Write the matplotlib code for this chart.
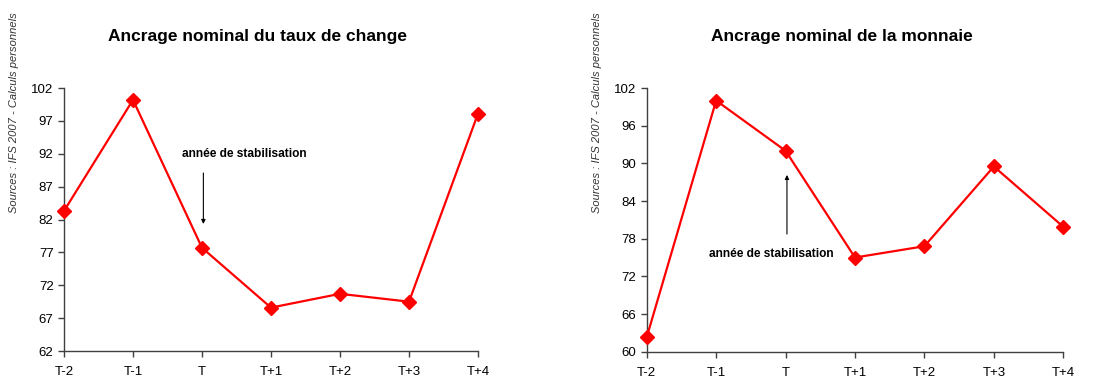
import matplotlib
matplotlib.use("Agg")
import matplotlib.pyplot as plt
from matplotlib import font_manager

# pick a narrow font if one is available
names = {f.name for f in font_manager.fontManager.ttflist}
narrow = "Liberation Sans Narrow" if "Liberation Sans Narrow" in names else "Liberation Sans"
plt.rcParams["font.family"] = [narrow, "DejaVu Sans"]

periodes = ["T-2", "T-1", "T", "T+1", "T+2", "T+3", "T+4"]
taux_change = [83.3, 100.2, 77.7, 68.6, 70.7, 69.5, 98.1]
monnaie = [62.3, 100.0, 92.0, 75.0, 76.8, 89.5, 79.9]

source = "Sources : IFS 2007 - Calculs personnels"
red = "#ff0000"
axis_col = "#404040"

fig = plt.figure(figsize=(11.07, 3.81), dpi=100)
ax1 = fig.add_axes([0.0578, 0.0787, 0.374, 0.6903])
ax2 = fig.add_axes([0.5842, 0.0769, 0.3763, 0.6921])


def style(ax, ymin, ymax, step):
    ax.set_xlim(0, len(periodes) - 1)
    ax.set_ylim(ymin, ymax)
    ax.set_yticks(range(ymin, ymax + 1, step))
    ax.set_xticks(range(len(periodes)))
    ax.set_xticklabels(periodes)
    for s in ["top", "right"]:
        ax.spines[s].set_visible(False)
    for s in ["left", "bottom"]:
        ax.spines[s].set_color(axis_col)
        ax.spines[s].set_linewidth(1.0)
    ax.tick_params(axis="both", colors=axis_col, labelcolor="black",
                   labelsize=9.5, length=4, width=1.0, direction="out")
    ax.tick_params(axis="x", pad=7)


x = list(range(len(periodes)))

# taux de change
ax1.plot(x, taux_change, color=red, lw=1.6, marker="D", ms=7, clip_on=False, zorder=3)
style(ax1, 62, 102, 5)
fig.text(0.233, 0.905, "Ancrage nominal du taux de change", ha="center", va="center",
         fontsize=12.5, fontweight="bold")
fig.text(0.0127, 0.705, source, rotation=90, ha="center", va="center",
         fontsize=8, style="italic", color="#333333")
ax1.text(2.62, 92.0, "année de stabilisation", ha="center", va="center",
         fontsize=8.6, fontweight="bold")
ax1.annotate("", xy=(2.02, 80.9), xytext=(2.02, 89.5),
             arrowprops=dict(arrowstyle="-|>", color="black", lw=0.8, mutation_scale=6))

# monnaie
ax2.plot(x, monnaie, color=red, lw=1.6, marker="D", ms=7, clip_on=False, zorder=3)
style(ax2, 60, 102, 6)
fig.text(0.7607, 0.905, "Ancrage nominal de la monnaie", ha="center", va="center",
         fontsize=12.5, fontweight="bold")
fig.text(0.5393, 0.705, source, rotation=90, ha="center", va="center",
         fontsize=8, style="italic", color="#333333")
ax2.text(1.79, 75.6, "année de stabilisation", ha="center", va="center",
         fontsize=8.6, fontweight="bold")
ax2.annotate("", xy=(2.02, 88.6), xytext=(2.02, 78.3),
             arrowprops=dict(arrowstyle="-|>", color="black", lw=0.8, mutation_scale=6))

plt.savefig("out.png", dpi=100)
